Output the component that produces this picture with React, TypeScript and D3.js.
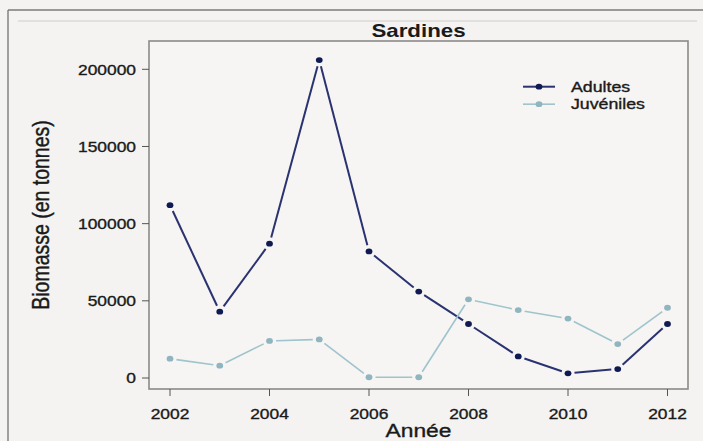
import React from "react";
import * as d3 from "d3";

const years = [2002, 2003, 2004, 2005, 2006, 2007, 2008, 2009, 2010, 2011, 2012];
const adultes = [112000, 43000, 87000, 206000, 82000, 56000, 35000, 14000, 3000, 5800, 35000];
const juveniles = [12500, 8000, 24000, 25000, 500, 500, 51000, 44000, 38500, 22000, 45500];
const xTicks = [2002, 2004, 2006, 2008, 2010, 2012];
const yTicks = [0, 50000, 100000, 150000, 200000];
const seriesNames = ["Adultes", "Juvéniles"];
const title = "Sardines";
const xTitle = "Année";
const yTitle = "Biomasse (en tonnes)";

const W = 703;
const H = 441;
const SX = 1.2;
const FONT = "'Liberation Sans', Arial, Helvetica, sans-serif";

const panel = { left: 149, right: 688, top: 41, bottom: 389 };

const x = d3.scaleLinear().domain([2002, 2012]).range([170, 667.5]);
const y = d3.scaleLinear().domain([0, 200000]).range([378, 69.3]);

const series = [
  { name: seriesNames[0], values: adultes, line: "#2a3270", dot: "#101a52", width: 2 },
  { name: seriesNames[1], values: juveniles, line: "#9fc4cc", dot: "#8fb5bf", width: 1.6 },
];

function gappedSegments(pts: [number, number][], gap: number) {
  const segs: [number, number, number, number][] = [];
  for (let i = 0; i < pts.length - 1; i++) {
    const [x1, y1] = pts[i];
    const [x2, y2] = pts[i + 1];
    const dx = x2 - x1;
    const dy = y2 - y1;
    const len = Math.hypot(dx, dy);
    if (len <= gap * 2) continue;
    const ux = dx / len;
    const uy = dy / len;
    segs.push([x1 + ux * gap, y1 + uy * gap, x2 - ux * gap, y2 - uy * gap]);
  }
  return segs;
}

function T({ x: tx, y: ty, size, anchor = "start", weight = "normal", rotate = 0, children }: any) {
  const tr = `translate(${tx},${ty}) scale(${SX},1)` + (rotate ? ` rotate(${rotate})` : "");
  return (
    <text
      transform={tr}
      fontSize={size}
      fontFamily={FONT}
      fontWeight={weight}
      textAnchor={anchor}
      fill="#1a1a1a"
      stroke="#1a1a1a"
      strokeWidth={weight === "bold" ? 0 : 0.35}
    >
      {children}
    </text>
  );
}

export default function App() {
  return (
    <svg
      width={W}
      height={H}
      style={{ position: "absolute", left: 0, top: 0, display: "block" }}
    >
      <rect x={0} y={0} width={W} height={H} fill="#f4f3f1" />
      {/* outer frame */}
      <line x1={8} y1={10} x2={W} y2={10} stroke="#7d7b78" strokeWidth={1.4} />
      <line x1={8} y1={10} x2={8} y2={H} stroke="#7d7b78" strokeWidth={1.4} />
      <line x1={18} y1={21} x2={697} y2={21} stroke="#cfcdca" strokeWidth={1.2} />

      {/* title */}
      <T x={(panel.left + panel.right) / 2} y={36.5} size={18.6} weight="bold" anchor="middle">
        {title}
      </T>

      {/* panel */}
      <rect
        x={panel.left}
        y={panel.top}
        width={panel.right - panel.left}
        height={panel.bottom - panel.top}
        fill="#f6f5f3"
        stroke="#8c8a87"
        strokeWidth={1.6}
      />

      {/* y axis */}
      {yTicks.map((t) => (
        <g key={t}>
          <line x1={142} x2={panel.left} y1={y(t)} y2={y(t)} stroke="#555" strokeWidth={1} />
          <T x={136} y={y(t) + 5.2} size={14.5} anchor="end">
            {String(t)}
          </T>
        </g>
      ))}
      {/* x axis */}
      {xTicks.map((t) => (
        <g key={t}>
          <line x1={x(t)} x2={x(t)} y1={panel.bottom} y2={panel.bottom + 7} stroke="#555" strokeWidth={1} />
          <T x={x(t)} y={419} size={14.5} anchor="middle">
            {String(t)}
          </T>
        </g>
      ))}

      {/* axis titles */}
      <T x={(panel.left + panel.right) / 2} y={437} size={19} anchor="middle">
        {xTitle}
      </T>
      <T x={49} y={215} size={19.5} anchor="middle" rotate={-90}>
        {yTitle}
      </T>

      {/* series */}
      {series.map((s) => {
        const pts: [number, number][] = years.map((yr, i) => [x(yr), y(s.values[i])]);
        const segs = gappedSegments(pts, 6.5);
        return (
          <g key={s.name}>
            {segs.map((g, i) => (
              <line
                key={i}
                x1={g[0]}
                y1={g[1]}
                x2={g[2]}
                y2={g[3]}
                stroke={s.line}
                strokeWidth={s.width}
              />
            ))}
            {pts.map((p, i) => (
              <ellipse key={i} cx={p[0]} cy={p[1]} rx={3.4} ry={2.9} fill={s.dot} />
            ))}
          </g>
        );
      })}

      {/* legend */}
      {series.map((s, i) => {
        const ly = 86.7 + i * 17.5;
        return (
          <g key={s.name}>
            <line x1={523} x2={555} y1={ly} y2={ly} stroke={s.line} strokeWidth={s.width} />
            <ellipse cx={539} cy={ly} rx={3.4} ry={2.9} fill={s.dot} />
            <T x={571} y={ly + 5.2} size={14.8}>
              {s.name}
            </T>
          </g>
        );
      })}
    </svg>
  );
}
